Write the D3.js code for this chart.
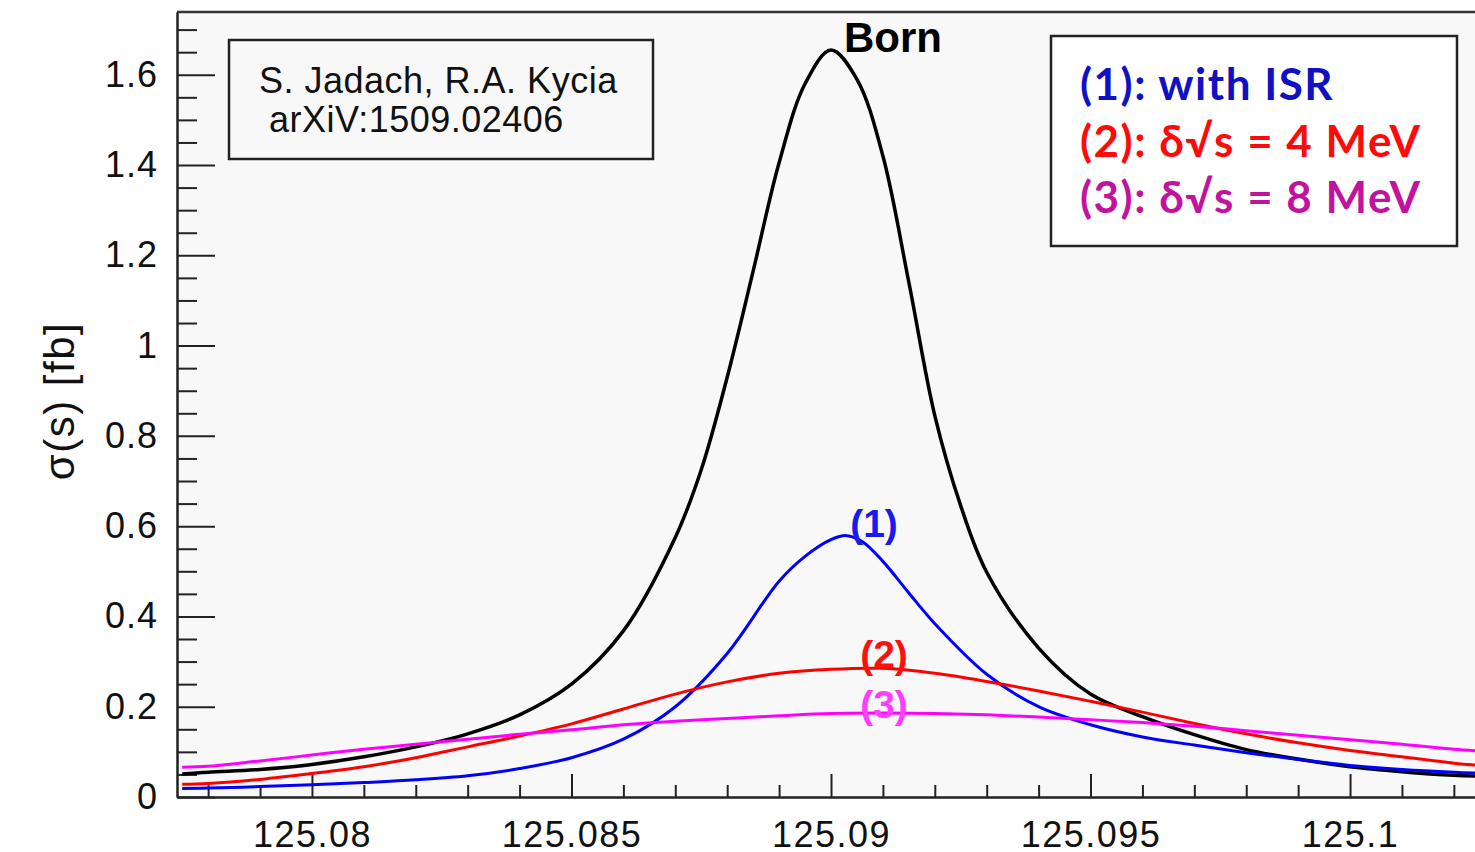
<!DOCTYPE html>
<html>
<head>
<meta charset="utf-8">
<script src="https://cdn.jsdelivr.net/npm/d3@7"></script>
<style>
  body { margin: 0; background: #ffffff; }
  svg { display: block; }
</style>
</head>
<body>
<script>
// sqrt(s) grid [GeV] used for the smeared curves
var eGrid = [125.0775, 125.078, 125.079, 125.080, 125.081, 125.082, 125.083, 125.084, 125.085,
  125.086, 125.087, 125.088, 125.089, 125.090, 125.091, 125.092, 125.093, 125.094, 125.095,
  125.096, 125.097, 125.098, 125.099, 125.100, 125.101, 125.102, 125.1025];

// Born, finer near the peak
var eBorn = [125.0775, 125.078, 125.079, 125.080, 125.081, 125.082, 125.083, 125.084, 125.085,
  125.086, 125.087, 125.0875, 125.088, 125.0885, 125.089, 125.0895, 125.090, 125.0905, 125.091,
  125.0915, 125.092, 125.0925, 125.093, 125.094, 125.095, 125.096, 125.097, 125.098, 125.099,
  125.100, 125.101, 125.102, 125.1025];
var sigBorn = [0.051, 0.055, 0.061, 0.072, 0.089, 0.111, 0.140, 0.182, 0.250,
  0.368, 0.575, 0.725, 0.930, 1.165, 1.405, 1.580, 1.655, 1.590, 1.420,
  1.140, 0.845, 0.645, 0.498, 0.330, 0.228, 0.178, 0.138, 0.105, 0.084,
  0.067, 0.056, 0.048, 0.046];

// (1) with ISR
var eIsr = [125.0775, 125.078, 125.079, 125.080, 125.081, 125.082, 125.083, 125.084, 125.085,
  125.086, 125.087, 125.088, 125.089, 125.0895, 125.090, 125.0903, 125.0906, 125.091, 125.0915,
  125.092, 125.093, 125.094, 125.095, 125.096, 125.097, 125.098, 125.099, 125.100, 125.101,
  125.102, 125.1025];
var sigIsr = [0.019, 0.020, 0.023, 0.027, 0.032, 0.038, 0.047, 0.063, 0.087,
  0.128, 0.200, 0.318, 0.478, 0.533, 0.570, 0.579, 0.566, 0.522, 0.452,
  0.384, 0.272, 0.200, 0.160, 0.133, 0.115, 0.098, 0.083, 0.070, 0.061,
  0.055, 0.053];

// (2) beam spread 4 MeV, (3) beam spread 8 MeV
var sig4 = [0.028, 0.030, 0.039, 0.052, 0.067, 0.087, 0.111, 0.135, 0.162,
  0.195, 0.228, 0.255, 0.274, 0.283, 0.285, 0.274, 0.256, 0.235, 0.212,
  0.188, 0.163, 0.140, 0.120, 0.103, 0.089, 0.075, 0.070];
var sig8 = [0.066, 0.068, 0.080, 0.093, 0.106, 0.117, 0.128, 0.139, 0.149,
  0.160, 0.168, 0.174, 0.180, 0.185, 0.186, 0.185, 0.182, 0.177, 0.171,
  0.165, 0.157, 0.147, 0.137, 0.127, 0.117, 0.106, 0.102];

var xMajor = [125.08, 125.085, 125.09, 125.095, 125.1];
var yMajor = [0, 0.2, 0.4, 0.6, 0.8, 1, 1.2, 1.4, 1.6];

(function() {
var W = 1475, H = 852;
var pL = 177, pT = 12, pB = 797, pR = 1485;

var svg = d3.select("body").append("svg").attr("width", W).attr("height", H);

var x = d3.scaleLinear().domain([125.0774, 125.1026]).range([pL, pR]);
var y = d3.scaleLinear().domain([0, 1.739]).range([pB, pT]);

svg.append("rect")
  .attr("x", pL).attr("y", pT)
  .attr("width", W - pL).attr("height", pB - pT)
  .attr("fill", "#f8f8f8");

svg.append("clipPath").attr("id", "clip")
  .append("rect").attr("x", pL).attr("y", pT).attr("width", pR - pL).attr("height", pB - pT);

// minor ticks
var xMinor = d3.range(125.078, 125.1025, 0.001).filter(function(v) {
  return !xMajor.some(function(m) { return Math.abs(m - v) < 1e-7; });
});
var yMinor = d3.range(0.05, 1.739, 0.05).filter(function(v) {
  return Math.abs(v * 5 - Math.round(v * 5)) > 1e-6;
});

var font = "'Liberation Sans', Arial, sans-serif";

svg.append("g").attr("transform", "translate(0," + pB + ")")
  .call(d3.axisBottom(x).tickValues(xMinor).tickSize(-12).tickSizeOuter(0).tickFormat(""));
var gx = svg.append("g").attr("class", "xax").attr("transform", "translate(0," + pB + ")")
  .call(d3.axisBottom(x).tickValues(xMajor).tickSize(-23).tickSizeOuter(0).tickPadding(24)
    .tickFormat(function(d) { return String(+d.toFixed(3)); }));

svg.append("g").attr("transform", "translate(" + pL + ",0)")
  .call(d3.axisLeft(y).tickValues(yMinor).tickSize(-20).tickSizeOuter(0).tickFormat(""));
var gy = svg.append("g").attr("class", "yax").attr("transform", "translate(" + pL + ",0)")
  .call(d3.axisLeft(y).tickValues(yMajor).tickSize(-38).tickSizeOuter(0).tickPadding(19)
    .tickFormat(function(d) { return String(+d.toFixed(1)); }));

svg.selectAll(".domain, .tick line").attr("stroke", "#222").attr("stroke-width", 2);
svg.selectAll(".tick text").attr("fill", "#111").style("font-family", font).style("font-size", "36px");
gx.selectAll(".tick text").style("letter-spacing", "1.5px");
gy.selectAll(".tick text").style("letter-spacing", "1px");

// top frame
svg.append("line").attr("x1", pL).attr("x2", W).attr("y1", pT).attr("y2", pT)
  .attr("stroke", "#333").attr("stroke-width", 2.5);

// curves
var plot = svg.append("g").attr("clip-path", "url(#clip)");
function drawCurve(es, vals, color, w) {
  var line = d3.line()
    .x(function(d, i) { return x(es[i]); })
    .y(function(d) { return y(d); })
    .curve(d3.curveCatmullRom.alpha(0.5));
  plot.append("path").datum(vals)
    .attr("d", line).attr("fill", "none")
    .attr("stroke", color).attr("stroke-width", w)
    .attr("stroke-linejoin", "round");
}
drawCurve(eBorn, sigBorn, "#000000", 3.5);
drawCurve(eIsr, sigIsr, "#0000ff", 3);
drawCurve(eGrid, sig4, "#ff0000", 3);
drawCurve(eGrid, sig8, "#ff00ff", 3);

// curve labels
svg.append("text").attr("x", 893).attr("y", 52).attr("text-anchor", "middle")
  .style("font-family", font).style("font-weight", "bold").style("font-size", "42px").attr("fill", "#000")
  .text("Born");
var cl = [["(1)", 874, 537, "#1a1aee"], ["(2)", 884, 668, "#ff1010"], ["(3)", 884, 718, "#ff3cff"]];
cl.forEach(function(c) {
  svg.append("text").attr("x", c[1]).attr("y", c[2]).attr("text-anchor", "middle")
    .style("font-family", font).style("font-weight", "bold").style("font-size", "39px")
    .attr("fill", c[3]).text(c[0]);
});

// y title
svg.append("text")
  .attr("transform", "translate(74,401) rotate(-90)")
  .attr("text-anchor", "middle")
  .style("font-family", font).style("font-size", "42px").style("letter-spacing", "1.5px").attr("fill", "#111")
  .text("σ(s) [fb]");

// reference box
svg.append("rect").attr("x", 229).attr("y", 40).attr("width", 424).attr("height", 119)
  .attr("fill", "#f8f8f8").attr("stroke", "#222").attr("stroke-width", 2.5);
svg.append("text").attr("x", 259).attr("y", 93)
  .style("font-family", font).style("font-size", "36px").style("letter-spacing", "0.5px").attr("fill", "#111")
  .text("S. Jadach, R.A. Kycia");
svg.append("text").attr("x", 269).attr("y", 132)
  .style("font-family", font).style("font-size", "36px").style("letter-spacing", "0.5px").attr("fill", "#111")
  .text("arXiV:1509.02406");

// legend box
svg.append("rect").attr("x", 1051).attr("y", 36).attr("width", 406).attr("height", 210)
  .attr("fill", "#ffffff").attr("stroke", "#222").attr("stroke-width", 2.5);
var leg = [["(1): with ISR", "#1111c4", 100], ["(2): δ√s = 4 MeV", "#ff0a0a", 157], ["(3): δ√s = 8 MeV", "#c2139e", 213]];
leg.forEach(function(l) {
  svg.append("text").attr("x", 1080).attr("y", l[2])
    .style("font-family", "Lato, 'Open Sans', sans-serif").style("font-weight", "bold")
    .style("font-size", "44px").style("letter-spacing", "1.5px")
    .attr("fill", l[1]).text(l[0]);
});
})();
</script>
</body>
</html>
